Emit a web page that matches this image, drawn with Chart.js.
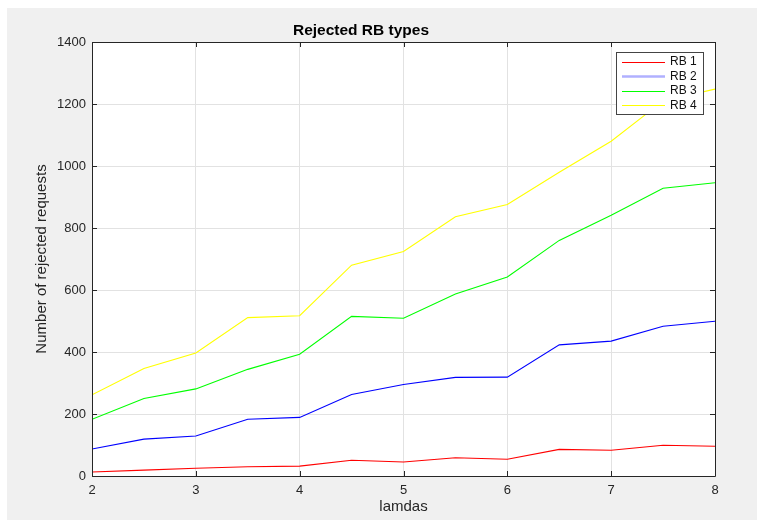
<!DOCTYPE html>
<html>
<head>
<meta charset="utf-8">
<script src="https://cdn.jsdelivr.net/npm/chart.js@4/dist/chart.umd.min.js"></script>
<style>
  html, body { margin: 0; padding: 0; background: #ffffff; }
  #wrap { position: absolute; left: 7px; top: 8px; width: 750px; height: 512px; background: #f0f0f0; }
  canvas { display: block; }
</style>
</head>
<body>
<div id="wrap"><canvas id="c" width="750" height="512"></canvas></div>
<script>
const lamdas = [2, 2.5, 3, 3.5, 4, 4.5, 5, 5.5, 6, 6.5, 7, 7.5, 8];
const rb1 = [13, 19, 25, 30, 32, 51, 45, 59, 54, 86, 83, 99, 96];
const rb2 = [87, 119, 129, 183, 189, 263, 295, 318, 319, 423, 435, 483, 499];
const rb3 = [183, 250, 281, 344, 393, 515, 509, 587, 642, 760, 841, 928, 946];
const rb4 = [262, 347, 397, 511, 517, 680, 724, 836, 876, 980, 1080, 1210, 1248];
const seriesLabels = ['RB 1', 'RB 2', 'RB 3', 'RB 4'];
const seriesColors = ['#ff0000', '#0000ff', '#00ff00', '#ffff00'];
const xTicks = [2, 3, 4, 5, 6, 7, 8];
const yTicks = [0, 200, 400, 600, 800, 1000, 1200, 1400];

const FONT = '"Liberation Sans", Arial, Helvetica, sans-serif';
const TXT = '#262626';

const allSeries = [rb1, rb2, rb3, rb4];
const datasets = allSeries.map((s, k) => ({
  label: seriesLabels[k],
  data: lamdas.map((x, i) => ({ x: x, y: s[i] })),
  borderColor: seriesColors[k],
  backgroundColor: seriesColors[k],
  borderWidth: 1.1,
  pointRadius: 0,
  tension: 0,
  fill: false
}));

const frame = {
  id: 'frame',
  beforeDraw(chart) {
    const a = chart.chartArea, ctx = chart.ctx;
    ctx.save();
    ctx.fillStyle = '#ffffff';
    ctx.fillRect(a.left, a.top, a.right - a.left, a.bottom - a.top);
    ctx.restore();
  },
  afterDatasetsDraw(chart) {
    const a = chart.chartArea, ctx = chart.ctx;
    const xs = chart.scales.x, ys = chart.scales.y;
    ctx.save();
    ctx.strokeStyle = TXT;
    ctx.lineWidth = 1;
    ctx.beginPath();
    ctx.rect(Math.round(a.left) + 0.5, Math.round(a.top) + 0.5,
             Math.round(a.right - a.left), Math.round(a.bottom - a.top));
    const L = 5;
    xTicks.forEach(v => {
      const px = Math.round(xs.getPixelForValue(v)) + 0.5;
      ctx.moveTo(px, a.bottom); ctx.lineTo(px, a.bottom - L);
      ctx.moveTo(px, a.top); ctx.lineTo(px, a.top + L);
    });
    yTicks.forEach(v => {
      const py = Math.round(ys.getPixelForValue(v)) + 0.5;
      ctx.moveTo(a.left, py); ctx.lineTo(a.left + L, py);
      ctx.moveTo(a.right, py); ctx.lineTo(a.right - L, py);
    });
    ctx.stroke();
    ctx.restore();
  },
  afterDraw(chart) {
    const ctx = chart.ctx;
    ctx.save();
    const bx = 609.5, by = 44.5, bw = 87, bh = 62;
    ctx.fillStyle = '#ffffff';
    ctx.fillRect(bx, by, bw, bh);
    ctx.strokeStyle = '#444444';
    ctx.lineWidth = 1;
    ctx.strokeRect(bx, by, bw, bh);
    const rows = [53.7, 68.2, 82.7, 97.2];
    ctx.font = '12px ' + FONT;
    ctx.textBaseline = 'middle';
    ctx.textAlign = 'left';
    chart.data.datasets.forEach((ds, i) => {
      ctx.beginPath();
      if (i === 1) { ctx.strokeStyle = 'rgba(80,80,255,0.45)'; ctx.lineWidth = 2.5; }
      else { ctx.strokeStyle = ds.borderColor; ctx.lineWidth = 1; }
      ctx.moveTo(615, Math.round(rows[i]) + 0.5);
      ctx.lineTo(658, Math.round(rows[i]) + 0.5);
      ctx.stroke();
      ctx.fillStyle = '#111111';
      ctx.fillText(ds.label, 663, rows[i]);
    });
    ctx.restore();
  }
};

new Chart(document.getElementById('c'), {
  type: 'line',
  data: { datasets: datasets },
  plugins: [frame],
  options: {
    responsive: false,
    animation: false,
    devicePixelRatio: 1,
    layout: { padding: { left: 0, right: 42, top: 0, bottom: 0 } },
    plugins: {
      legend: { display: false },
      tooltip: { enabled: false },
      title: {
        display: true,
        text: 'Rejected RB types',
        color: '#000000',
        font: { family: FONT, size: 15.5, weight: 'bold', lineHeight: 1.2 },
        padding: { top: 13.7, bottom: 1.7 }
      }
    },
    scales: {
      x: {
        type: 'linear',
        min: 2, max: 8,
        afterBuildTicks(scale) { scale.ticks = xTicks.map(v => ({ value: v })); },
        afterFit(scale) { scale.height = 44; },
        ticks: { color: TXT, font: { family: FONT, size: 13 }, padding: 7, maxRotation: 0,
                 callback: v => String(v) },
        grid: { color: '#e2e2e2', drawTicks: false, lineWidth: 1 },
        border: { display: false },
        title: {
          display: true, text: 'lamdas', color: TXT,
          font: { family: FONT, size: 15, lineHeight: 1.2 },
          padding: { top: 0, bottom: 4 }
        }
      },
      y: {
        type: 'linear',
        min: 0, max: 1400,
        afterBuildTicks(scale) { scale.ticks = yTicks.map(v => ({ value: v })); },
        afterFit(scale) { scale.width = 85; },
        ticks: { color: TXT, font: { family: FONT, size: 13 }, padding: 6,
                 callback: v => String(v) },
        grid: { color: '#e2e2e2', drawTicks: false, lineWidth: 1 },
        border: { display: false },
        title: {
          display: true, text: 'Number of rejected requests', color: TXT,
          font: { family: FONT, size: 15, lineHeight: 1.2 },
          padding: { top: 26, bottom: 0 }
        }
      }
    }
  }
});
</script>
</body>
</html>
